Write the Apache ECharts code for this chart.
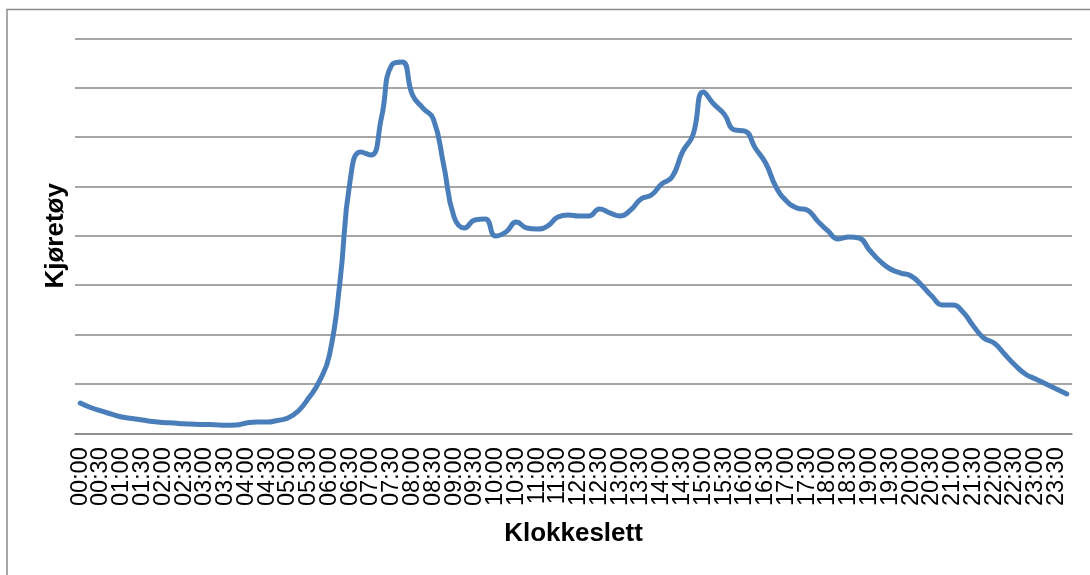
<!DOCTYPE html>
<html>
<head>
<meta charset="utf-8">
<script src="https://cdn.jsdelivr.net/npm/echarts@6/dist/echarts.min.js"></script>
<style>
html,body{margin:0;padding:0;background:#fff;}
#chart{width:1090px;height:575px;}
</style>
</head>
<body>
<div id="chart"></div>
<script>
// 15-minute time slots (labels shown every 30 minutes)
const times = [];
for (let h = 0; h < 24; h++) {
  for (const m of ['00','15','30','45']) {
    times.push((h < 10 ? '0' + h : '' + h) + ':' + m);
  }
}
const vehicles = [
  307, 261, 226, 195, 165, 150, 135, 119, 109, 104, 96, 92,
  89, 87, 81, 84, 104, 114, 114, 130, 155, 226, 357, 520,
  793, 1522, 2565, 2849, 2818, 3193, 3730, 3760, 3426, 3294, 3183, 2717,
  2190, 2079, 2160, 2170, 1998, 2039, 2140, 2079, 2069, 2099, 2190, 2211,
  2201, 2201, 2272, 2231, 2201, 2261, 2373, 2413, 2525, 2596, 2849, 3021,
  3456, 3335, 3234, 3072, 3061, 2889, 2737, 2494, 2353, 2282, 2261, 2150,
  2049, 1968, 1988, 1978, 1856, 1745, 1664, 1623, 1593, 1502, 1390, 1299,
  1299, 1228, 1087, 965, 914, 803, 692, 601, 550, 499, 449, 398
];
const xTitle = 'Klokkeslett';
const yTitle = 'Kjøretøy';

const chart = echarts.init(document.getElementById('chart'));
chart.setOption({
  animation: false,
  backgroundColor: '#ffffff',
  graphic: [{
    type: 'rect',
    shape: { x: 7, y: 9.5, width: 1200, height: 700 },
    style: { fill: 'none', stroke: '#8c8c8c', lineWidth: 1.5 },
    silent: true
  }],
  grid: { left: 75, right: 18, top: 38.3, bottom: 141.7 },
  xAxis: {
    type: 'category',
    data: times,
    boundaryGap: true,
    name: xTitle,
    nameLocation: 'middle',
    nameGap: 88,
    nameTextStyle: { fontFamily: 'Liberation Sans', fontWeight: 'bold', fontSize: 26, color: '#000' },
    axisLine: { show: true, lineStyle: { color: '#888', width: 1.5 } },
    axisTick: { show: false },
    axisLabel: {
      interval: 0,
      formatter: function (value, index) { return index % 2 === 0 ? value : ''; },
      hideOverlap: false,
      rotate: 90,
      margin: 14,
      fontFamily: 'Liberation Sans',
      fontSize: 23.5,
      color: '#000'
    },
    splitLine: { show: false }
  },
  yAxis: {
    type: 'value',
    min: 0,
    max: 4000,
    interval: 500,
    name: yTitle,
    nameLocation: 'middle',
    nameGap: 6,
    nameTextStyle: { fontFamily: 'Liberation Sans', fontWeight: 'bold', fontSize: 26, color: '#000' },
    axisLine: { show: false },
    axisTick: { show: false },
    axisLabel: { show: false },
    splitLine: { show: true, lineStyle: { color: '#888', width: 1.5 } }
  },
  series: [{
    type: 'line',
    data: vehicles,
    smooth: 0.5,
    showSymbol: false,
    lineStyle: { color: '#4a7ebb', width: 5, cap: 'round', join: 'round' },
    itemStyle: { color: '#4a7ebb' }
  }]
});
</script>
</body>
</html>
